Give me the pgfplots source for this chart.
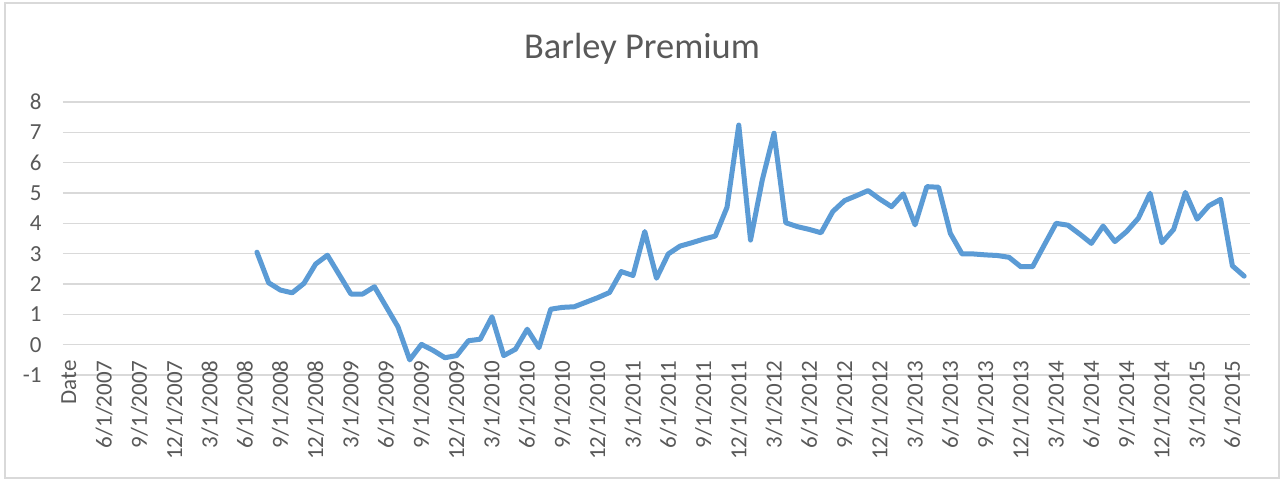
\documentclass[border=0pt]{standalone}
\usepackage{pgfplots}
\pgfplotsset{compat=1.18}
\usepackage{fontspec}
\setmainfont{Carlito}
\definecolor{txt}{HTML}{595959}
\definecolor{gridc}{HTML}{D9D9D9}
\definecolor{lineblue}{HTML}{5B9BD5}
\begin{document}
\begin{tikzpicture}[x=0.5pt,y=0.5pt]
\useasboundingbox (0,0) rectangle (1284,479);
\fill[white] (0,0) rectangle (1284,479);
\draw[gridc, line width=0.6pt] (5,1) rectangle (1279,476);
\node[anchor=base, text=txt, font=\fontsize{18.2pt}{20pt}\selectfont] at (642,421) {Barley Premium};
\begin{axis}[
  at={(31.5pt,52pt)}, anchor=south west,
  scale only axis, width=593.5pt, height=136.5pt,
  xmin=-0.5, xmax=100.5, ymin=-1, ymax=8,
  axis line style={draw=none},
  ytick={-1,0,...,8},
  yticklabels={-1,0,1,2,3,4,5,6,7,8},
  ymajorgrids, grid style={gridc, line width=0.8pt},
  major tick length=0pt,
  xtick={0,3,...,99},
  xticklabels={Date,6/1/2007,9/1/2007,12/1/2007,3/1/2008,6/1/2008,9/1/2008,12/1/2008,3/1/2009,6/1/2009,9/1/2009,12/1/2009,3/1/2010,6/1/2010,9/1/2010,12/1/2010,3/1/2011,6/1/2011,9/1/2011,12/1/2011,3/1/2012,6/1/2012,9/1/2012,12/1/2012,3/1/2013,6/1/2013,9/1/2013,12/1/2013,3/1/2014,6/1/2014,9/1/2014,12/1/2014,3/1/2015,6/1/2015},
  x tick label style={yshift=7.5pt, rotate=90, anchor=east, inner sep=0pt, text=txt, font=\fontsize{11.5pt}{13pt}\selectfont},
  y tick label style={anchor=east, inner sep=0pt, xshift=-10.5pt, text=txt, font=\fontsize{11.5pt}{13pt}\selectfont},
  clip=false,
]
\addplot[lineblue, line width=2.5pt, line join=round, line cap=round] coordinates {
(16,3.05) (17,2.04) (18,1.80) (19,1.71) (20,2.02) (21,2.66) (22,2.95) (23,2.31) (24,1.67) (25,1.67)
(26,1.91) (27,1.25) (28,0.59) (29,-0.50) (30,0.01) (31,-0.19) (32,-0.43) (33,-0.36) (34,0.13) (35,0.18)
(36,0.92) (37,-0.36) (38,-0.15) (39,0.51) (40,-0.10) (41,1.17) (42,1.23) (43,1.25) (44,1.40) (45,1.55)
(46,1.72) (47,2.41) (48,2.28) (49,3.73) (50,2.19) (51,2.99) (52,3.25) (53,3.36) (54,3.48) (55,3.58)
(56,4.53) (57,7.24) (58,3.45) (59,5.43) (60,6.97) (61,4.02) (62,3.89) (63,3.80) (64,3.69) (65,4.39)
(66,4.75) (67,4.91) (68,5.08) (69,4.80) (70,4.55) (71,4.97) (72,3.95) (73,5.21) (74,5.19) (75,3.67)
(76,2.99) (77,2.99) (78,2.96) (79,2.94) (80,2.88) (81,2.57) (82,2.57) (83,3.29) (84,4.00) (85,3.94)
(86,3.65) (87,3.34) (88,3.91) (89,3.40) (90,3.73) (91,4.17) (92,4.99) (93,3.36) (94,3.80) (95,5.02)
(96,4.14) (97,4.58) (98,4.79) (99,2.60) (100,2.26)
};
\end{axis}
\end{tikzpicture}
\end{document}
